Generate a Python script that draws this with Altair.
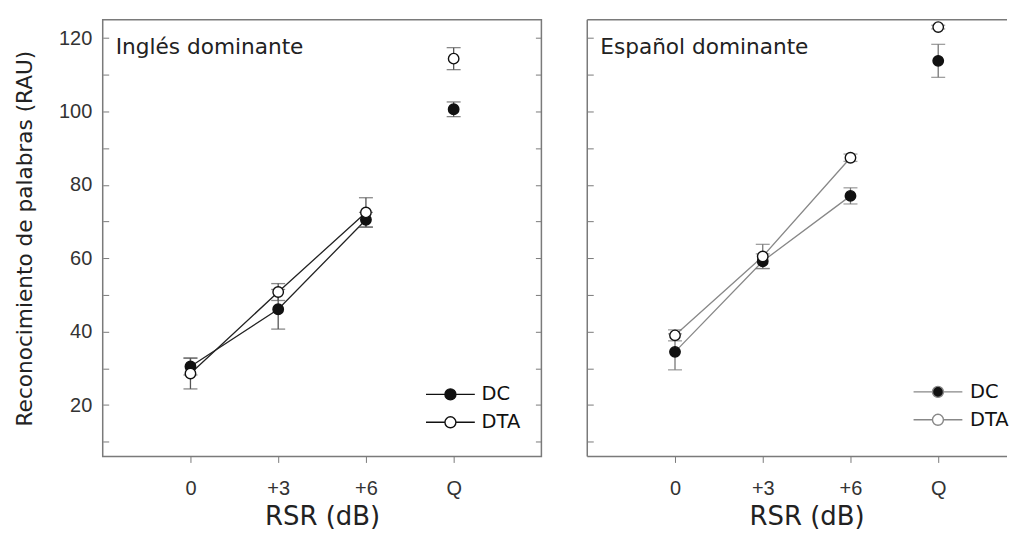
import altair as alt
import pandas as pd

# ---- data ----
categories = ["0", "+3", "+6", "Q"]
cat_pos = [1, 2, 3, 4]
series = ["DC", "DTA"]

ing_dc = [30.5, 46.1, 70.5, 100.6]
ing_dc_err = [2.3, 5.4, 2.0, 2.0]
ing_dta = [28.6, 50.8, 72.5, 114.4]
ing_dta_err = [4.2, 2.3, 4.0, 3.0]

esp_dc = [34.5, 59.2, 77.0, 113.8]
esp_dc_err = [4.9, 2.0, 2.2, 4.5]
esp_dta = [39.0, 60.5, 87.4, 123.0]
esp_dta_err = [1.5, 3.3, 1.0, 0.5]

panel_titles = ["Inglés dominante", "Español dominante"]
y_ticks = list(range(10, 121, 10))
y_domain = [6, 125]

PW, PH = 440, 438
PW_R = 421                      # right panel is cut off by the picture edge
x_domain_l = [0, 5]
x_domain_r = [0, 5 * PW_R / PW]
FRAME = "#7a7a7a"
TICK = 6
LEG_PATH = "M-4.45,0H-1M1,0H4.45M-1,0A1,1 0 1,1 1,0A1,1 0 1,1 -1,0Z"


def make_df(dc, dc_err, dta, dta_err):
    rows = []
    for s, vals, errs in (("DC", dc, dc_err), ("DTA", dta, dta_err)):
        for p, c, v, e in zip(cat_pos, categories, vals, errs):
            rows.append({"series": s, "x": p, "cat": c, "y": v,
                         "lo": v - e, "hi": v + e})
    return pd.DataFrame(rows)


label_expr = ("datum.value == 1 ? '0' : datum.value == 2 ? '+3' : "
              "datum.value == 3 ? '+6' : datum.value == 4 ? 'Q' : ''")


def panel(df, title, first, line_color, err_color, leg_x, leg_y, leg_stroke, leg_off):
    width = PW if first else PW_R
    xenc = alt.X("x:Q", scale=alt.Scale(domain=x_domain_l if first else x_domain_r,
                                        nice=False, zero=False),
                 axis=alt.Axis(values=cat_pos, labelExpr=label_expr, title="RSR (dB)",
                               grid=False, domain=False, tickSize=6, tickColor=FRAME,
                               labelPadding=16, labelFont="Liberation Sans",
                               labelFontSize=20, labelColor="#333",
                               titleFont="DejaVu Sans", titleFontSize=26,
                               titleFontWeight="normal", titleColor="#222",
                               titlePadding=5, titleX=PW / 2))
    yscale = alt.Scale(domain=y_domain, nice=False, zero=False)
    if first:
        yaxis = alt.Axis(values=y_ticks, orient="left", offset=-TICK, tickSize=TICK,
                         tickColor=FRAME, domain=False, grid=False,
                         labelExpr="datum.value % 20 == 0 ? datum.label : ''",
                         labelPadding=11, labelFont="Liberation Sans",
                         labelFontSize=20, labelColor="#333",
                         title="Reconocimiento de palabras (RAU)",
                         titleFont="DejaVu Sans", titleFontSize=21.7,
                         titleFontWeight="normal", titleColor="#222",
                         titlePadding=22)
        yaxis_r = alt.Axis(values=y_ticks, orient="right", offset=-TICK,
                           tickSize=TICK, tickColor=FRAME, domain=False, grid=False,
                           labels=False, title=None)
    else:
        yaxis = alt.Axis(values=y_ticks, orient="left", offset=-TICK, tickSize=TICK,
                         tickColor=FRAME, domain=False, grid=False, labels=False,
                         title=None)
        yaxis_r = None

    base = alt.Chart(df).encode(x=xenc)

    lines = base.transform_filter("datum.x < 4").mark_line(
        color=line_color, strokeWidth=1.3).encode(
        y=alt.Y("y:Q", scale=yscale, axis=yaxis), detail="series:N")

    bars = base.mark_rule(color=err_color, strokeWidth=1.3).encode(
        y=alt.Y("lo:Q", scale=yscale, axis=None), y2="hi:Q")
    cap_lo = base.mark_tick(color=err_color, size=14, thickness=1.3,
                            orient="horizontal").encode(
        y=alt.Y("lo:Q", scale=yscale, axis=None))
    cap_hi = base.mark_tick(color=err_color, size=14, thickness=1.3,
                            orient="horizontal").encode(
        y=alt.Y("hi:Q", scale=yscale, axis=None))

    points = base.mark_circle(size=110, opacity=1, stroke="#111",
                              strokeWidth=1.4).encode(
        y=alt.Y("y:Q", scale=yscale, axis=yaxis_r),
        fill=alt.Fill("series:N",
                      scale=alt.Scale(domain=series, range=["#111111", "#ffffff"]),
                      legend=alt.Legend(title=None, orient="none",
                                        legendX=leg_x, legendY=leg_y,
                                        symbolType=LEG_PATH, symbolSize=121,
                                        symbolStrokeColor=leg_stroke,
                                        symbolStrokeWidth=1.4, symbolOpacity=1,
                                        labelFont="DejaVu Sans", labelFontSize=19.5,
                                        labelColor="#111", labelOffset=leg_off,
                                        rowPadding=7, padding=0)))

    txt = alt.Chart(pd.DataFrame({"t": [title]})).mark_text(
        align="left", baseline="alphabetic", font="DejaVu Sans", fontSize=21.7,
        color="#222").encode(x=alt.value(13), y=alt.value(34), text="t:N")

    layers = [lines, bars, cap_lo, cap_hi, points, txt]
    if not first:
        # frame of the cut-off panel: top, left and bottom edges only
        edge = alt.Chart(pd.DataFrame({"e": [0]}))
        layers.insert(0, edge.mark_rule(color=FRAME, strokeWidth=1.5).encode(
            x=alt.value(0), x2=alt.value(width), y=alt.value(0)))
        layers.insert(0, edge.mark_rule(color=FRAME, strokeWidth=1.5).encode(
            x=alt.value(0), x2=alt.value(width), y=alt.value(PH)))
        layers.insert(0, edge.mark_rule(color=FRAME, strokeWidth=1.5).encode(
            x=alt.value(0), y=alt.value(0), y2=alt.value(PH)))

    ch = alt.layer(*layers).resolve_scale(y="independent").properties(
        width=width, height=PH)
    if not first:
        ch = ch.properties(view=alt.ViewBackground(stroke=None))
    return ch


left = panel(make_df(ing_dc, ing_dc_err, ing_dta, ing_dta_err), panel_titles[0],
             True, "#222", "#555", 339, 366, "#111", 21.5)
right = panel(make_df(esp_dc, esp_dc_err, esp_dta, esp_dta_err), panel_titles[1],
              False, "#888", "#777", 342, 363.5, "#888", 22.3)

chart = alt.hconcat(left, right, spacing=43).resolve_scale(
    fill="independent").resolve_legend(fill="independent").properties(
    padding={"left": 5, "top": 10, "right": 0, "bottom": 0},
    background="white"
).configure_view(stroke=FRAME, strokeWidth=1.5)

chart.save("out.html", embed_options={"renderer": "svg", "actions": False})
